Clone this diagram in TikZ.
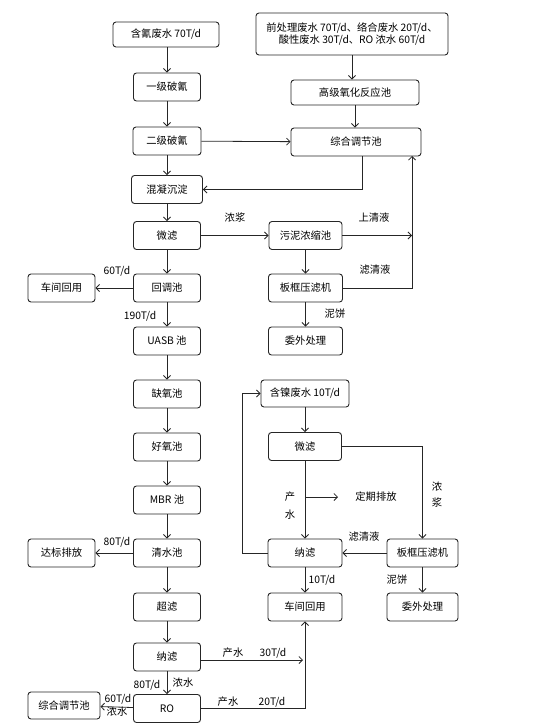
\documentclass[tikz,border=0pt]{standalone}
\usepackage{fontspec}
\setmainfont{Noto Sans CJK SC}
\usetikzlibrary{arrows.meta}
\tikzset{
  box/.style={draw=black!85, line width=0.9pt, rounded corners=3pt, fill=white, minimum height=28pt, minimum width=67pt, inner sep=1pt, font=\fontsize{10.3}{12}\selectfont},
  conn/.style={draw=black!85, line width=0.8pt},
  arr/.style={conn, -{Straight Barb[length=3.5pt,width=7pt]}},
  lbl/.style={font=\fontsize{10.3}{12}\selectfont, inner sep=0pt}
}
\begin{document}
\begin{tikzpicture}[x=1pt,y=-1pt]
\useasboundingbox (0,0) rectangle (545,728);
% left column
\node[box, minimum width=106pt, minimum height=25pt] (a1) at (166,34.5) {含氰废水 70T/d};
\node[box] (a2) at (167,87) {一级破氰};
\node[box, minimum width=68pt] (a3) at (167,141) {二级破氰};
\node[box, minimum width=71pt] (a4) at (167,189.5) {混凝沉淀};
\node[box] (a5) at (167,235.5) {微滤};
\node[box] (a6) at (167,288) {回调池};
\node[box] (a7) at (167,341) {UASB 池};
\node[box] (a8) at (167,394) {缺氧池};
\node[box] (a9) at (167,447) {好氧池};
\node[box] (a10) at (167,500) {MBR 池};
\node[box] (a11) at (167,553) {清水池};
\node[box] (a12) at (167,607) {超滤};
\node[box] (a13) at (167,657) {纳滤};
\node[box] (a14) at (167,708.5) {RO};
% left side
\node[box] (b1) at (61.5,288) {车间回用};
\node[box] (b2) at (61.5,553) {达标排放};
\node[box, minimum width=72pt, minimum height=27pt] (b3) at (64,705.5) {综合调节池};
% top right
\node[box, minimum width=192pt, minimum height=42pt, align=center] (t1) at (352,34) {前处理废水 70T/d、络合废水 20T/d、\\酸性废水 30T/d、RO 浓水 60T/d};
\node[box, minimum width=128pt, minimum height=25pt] (t2) at (355,92.5) {高级氧化反应池};
\node[box, minimum width=130pt] (t3) at (356,142) {综合调节池};
% middle right
\node[box, minimum width=73pt] (r1) at (305.5,235.5) {污泥浓缩池};
\node[box, minimum width=74pt] (r2) at (305.5,288) {板框压滤机};
\node[box, minimum width=74pt] (r3) at (305.5,341) {委外处理};
% lower right
\node[box, minimum width=88pt, minimum height=27pt] (n1) at (305,393.5) {含镍废水 10T/d};
\node[box, minimum width=73pt] (n2) at (305,446.5) {微滤};
\node[box, minimum width=74pt] (n3) at (305,553) {纳滤};
\node[box, minimum width=71pt] (n4) at (422.5,553) {板框压滤机};
\node[box, minimum width=74pt] (n5) at (305,607) {车间回用};
\node[box, minimum width=71pt] (n6) at (422.5,607) {委外处理};
% coordinates
\coordinate (cR) at (412,156);
\coordinate (c1) at (412,235.5);
\coordinate (c2) at (412,288);
\coordinate (c3) at (362,189.5);
\coordinate (d1) at (338,497);
\coordinate (d0) at (305,497);
\coordinate (d2) at (422.5,446.5);
\coordinate (d3) at (242,553);
\coordinate (d4) at (242,393.5);
\coordinate (d5) at (303,660);
\coordinate (d6) at (305,708.5);
% left column arrows
\foreach \p/\q in {a2/a3,a3/a4,a4/a5,a5/a6,a6/a7,a7/a8,a8/a9,a9/a10,a10/a11,a11/a12,a12/a13,a13/a14}
  \draw[arr] (\p) -- (\q);
\draw[arr] (a1.south -| a2) -- (a2);
\draw[arr] (a6) -- (b1);
\draw[arr] (a11) -- (b2);
\draw[arr] (a14) -- (b3);
% top right
\draw[arr] (t1) -- (t1 |- t2.north);
\draw[arr] (t2) -- (t2 |- t3.north);
\draw[arr] (a3) -- (t3);
\draw[arr] (t3.south -| c3) -- (c3) -- (a4);
\draw[arr] (a5) -- (r1);
\draw[arr] (r1) -- (c1);
\draw[arr] (r1) -- (r2);
\draw[arr] (r2) -- (r3);
\draw[arr] (r2) -- (c2) -- (cR);
% lower right
\draw[arr] (n1) -- (n2);
\draw[arr] (n2) -- (n3);
\draw[arr] (d0) -- (d1);
\draw[arr] (n2) -- (d2) -- (n4);
\draw[arr] (n4) -- (n3);
\draw[arr] (n3) -- (d3) -- (d4) -- (n1);
\draw[arr] (n3) -- (n5);
\draw[arr] (n4) -- (n6);
\draw[arr] (a13.east |- d5) -- (d5);
\draw[arr] (a14) -- (d6) -- (n5);
% labels
\node[lbl] at (235,218) {浓浆};
\node[lbl] at (374,218) {上清液};
\node[lbl] at (375,270) {滤清液};
\node[lbl] at (117,271) {60T/d};
\node[lbl] at (140,316) {190T/d};
\node[lbl] at (335,314) {泥饼};
\node[lbl] at (290,497) {产};
\node[lbl] at (290,515) {水};
\node[lbl] at (376,497) {定期排放};
\node[lbl] at (437,487) {浓};
\node[lbl] at (437,503) {浆};
\node[lbl] at (364,537) {滤清液};
\node[lbl] at (117,542) {80T/d};
\node[lbl] at (322,580) {10T/d};
\node[lbl] at (397,580) {泥饼};
\node[lbl] at (233,653) {产水};
\node[lbl] at (273,653) {30T/d};
\node[lbl] at (147,685) {80T/d};
\node[lbl] at (183,683) {浓水};
\node[lbl] at (118,699) {60T/d};
\node[lbl] at (117,712) {浓水};
\node[lbl] at (228,702) {产水};
\node[lbl] at (272,702) {20T/d};
\end{tikzpicture}
\end{document}
